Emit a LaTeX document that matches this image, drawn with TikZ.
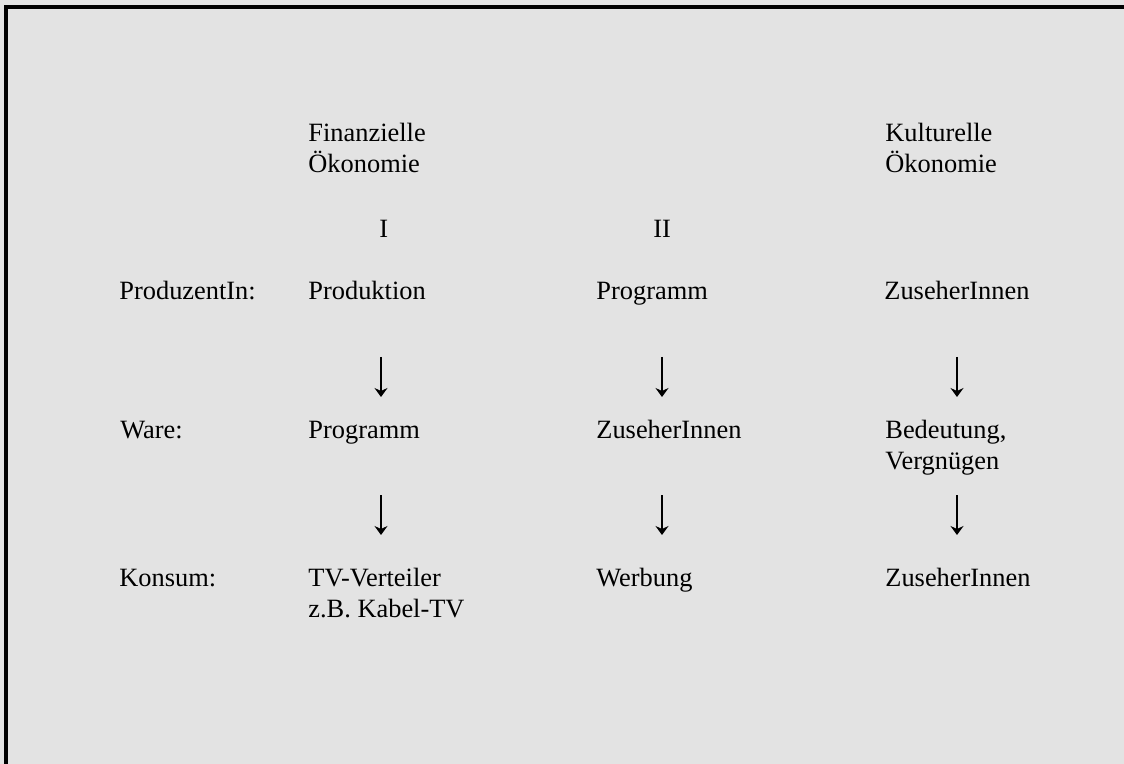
\documentclass[tikz,border=0pt]{standalone}
\usepackage{fontspec}
\setmainfont{Liberation Serif}
\usetikzlibrary{arrows.meta}
\definecolor{panelgray}{HTML}{E3E3E3}

\begin{document}
\begin{tikzpicture}
            [x=0.5pt, y=-0.5pt,
             txt/.style={anchor=base west, inner sep=0pt, align=left,
                         font=\fontsize{13.2}{15.5}\selectfont},
             flow/.style={line width=0.7pt,
                          -{Stealth[length=4.5pt,width=6.5pt,inset=1.5pt]}}]
            % Background and frame
            \useasboundingbox (0,0) rectangle (1124,764);
            \fill[panelgray] (0,0) rectangle (1124,764);
            \fill[black] (4,5) rectangle (8,764);
            \fill[black] (4,5) rectangle (1124,9);

            % Column headings (base = last line)
            \node[txt] (fin) at (308,173) {Finanzielle\\Ökonomie};
            \node[txt] (kult) at (885,173) {Kulturelle\\Ökonomie};
            \node[txt] (one) at (379,238) {I};
            \node[txt] (two) at (653,238) {II};

            % Row labels
            \node[txt] (prodin) at (119,300) {ProduzentIn:};
            \node[txt] (ware) at (120,438) {Ware:};
            \node[txt] (konsum) at (119,586) {Konsum:};

            % Row 1
            \node[txt] (produktion) at (308,300) {Produktion};
            \node[txt] (programmA) at (596,300) {Programm};
            \node[txt] (zuseherA) at (884,300) {ZuseherInnen};

            % Row 2
            \node[txt] (programmB) at (308,438) {Programm};
            \node[txt] (zuseherB) at (596,438) {ZuseherInnen};
            \node[txt] (bedeutung) at (885,469) {Bedeutung,\\Vergnügen};

            % Row 3
            \node[txt] (verteiler) at (308,617) {TV-Verteiler\\z.B. Kabel-TV};
            \node[txt] (werbung) at (596,586) {Werbung};
            \node[txt] (zuseherC) at (885,586) {ZuseherInnen};

            % Arrow ends
            \coordinate (a1) at (381,357);  \coordinate (b1) at (381,397);
            \coordinate (a2) at (662,357);  \coordinate (b2) at (662,397);
            \coordinate (a3) at (957,357);  \coordinate (b3) at (957,397);
            \coordinate (c1) at (381,495);  \coordinate (d1) at (381,535);
            \coordinate (c2) at (662,495);  \coordinate (d2) at (662,535);
            \coordinate (c3) at (957,495);  \coordinate (d3) at (957,535);

            % Arrows
            \foreach \s/\e in {a1/b1, a2/b2, a3/b3, c1/d1, c2/d2, c3/d3}
                \draw[flow] (\s) -- (\e);
        \end{tikzpicture}
\end{document}
